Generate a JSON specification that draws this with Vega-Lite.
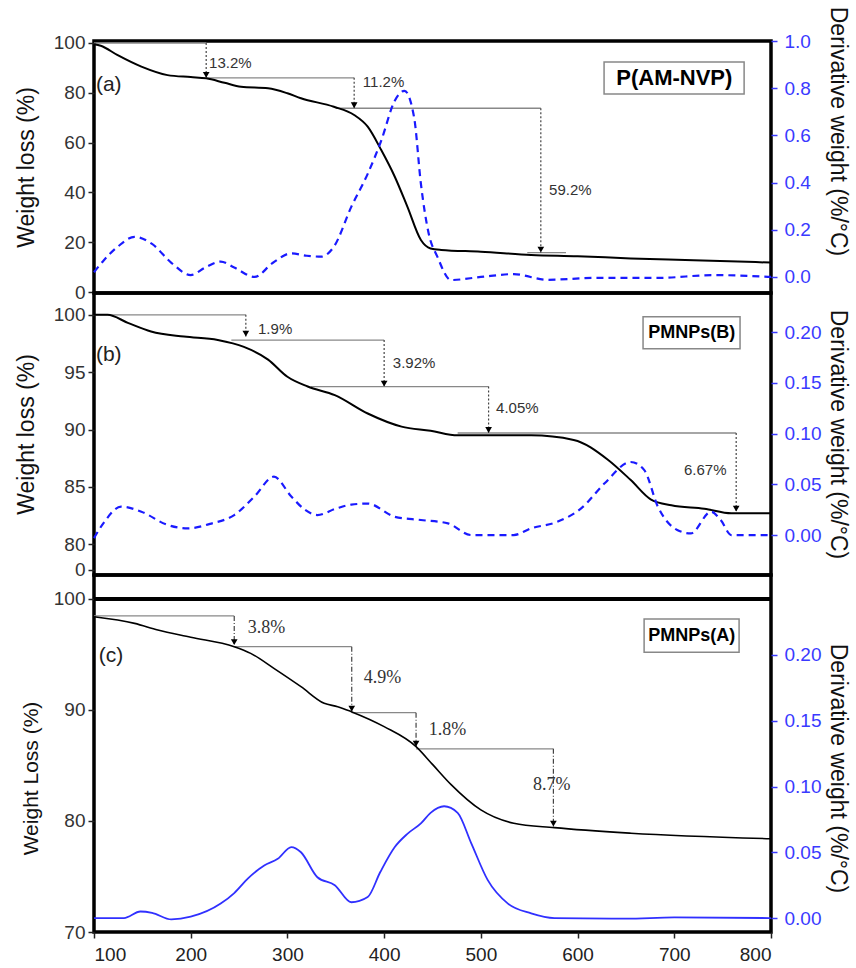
{
  "$schema": "https://vega.github.io/schema/vega-lite/v6.json",
  "background": "white",
  "padding": {"left": 13, "top": 4, "right": 0, "bottom": 0},
  "spacing": 0,
  "bounds": "flush",
  "config": {
    "view": {"stroke": "black", "strokeWidth": 3.5},
    "font": "Liberation Sans",
    "axis": {"grid": false, "domain": false, "labelFont": "Liberation Sans", "titleFont": "Liberation Sans", "titleFontWeight": "normal", "labelFontSize": 19, "titleFontSize": 23, "tickSize": 6, "tickWidth": 1.5}
  },
  "datasets": {
    "a_w": [{"T":100,"v":99.5},{"T":107,"v":98.9},{"T":124,"v":95.2},{"T":149,"v":90.5},{"T":176,"v":87.1},{"T":200,"v":86.3},{"T":216,"v":85.8},{"T":235,"v":84.0},{"T":252,"v":82.4},{"T":280,"v":81.8},{"T":300,"v":79.8},{"T":314,"v":77.8},{"T":348,"v":74.4},{"T":369,"v":71.1},{"T":383,"v":66.4},{"T":397,"v":57.0},{"T":411,"v":46.3},{"T":424,"v":34.3},{"T":438,"v":20.9},{"T":448,"v":17.5},{"T":459,"v":16.9},{"T":500,"v":16.2},{"T":552,"v":14.9},{"T":600,"v":14.4},{"T":655,"v":13.5},{"T":720,"v":12.8},{"T":800,"v":11.8}],
    "a_d": [{"T":100,"v":0.02},{"T":110,"v":0.07},{"T":125,"v":0.13},{"T":142,"v":0.17},{"T":160,"v":0.14},{"T":180,"v":0.06},{"T":200,"v":0.008},{"T":215,"v":0.04},{"T":231,"v":0.065},{"T":245,"v":0.04},{"T":266,"v":0.0},{"T":285,"v":0.06},{"T":304,"v":0.10},{"T":320,"v":0.09},{"T":335,"v":0.086},{"T":348,"v":0.128},{"T":366,"v":0.297},{"T":383,"v":0.437},{"T":397,"v":0.578},{"T":411,"v":0.747},{"T":421,"v":0.789},{"T":431,"v":0.676},{"T":438,"v":0.395},{"T":446,"v":0.185},{"T":455,"v":0.086},{"T":469,"v":-0.013},{"T":500,"v":0.0},{"T":534,"v":0.012},{"T":569,"v":-0.012},{"T":620,"v":-0.004},{"T":683,"v":-0.004},{"T":741,"v":0.008},{"T":800,"v":0.0}],
    "a_h": [{"T":100,"T2":216,"v":100},{"T":216,"T2":369,"v":86.0},{"T":350,"T2":562,"v":73.8},{"T":548,"T2":588,"v":15.8}],
    "a_a": [{"T":216,"v":100,"v2":86.0},{"T":369,"v":86.0,"v2":73.8},{"T":562,"v":73.8,"v2":15.8}],
    "a_t": [{"T":219,"v":92,"label":"13.2%"},{"T":378,"v":84.3,"label":"11.2%"},{"T":570.5,"v":41,"label":"59.2%"}],
    "a_p": [{"T":102,"v":83.1,"label":"(a)"}],
    "a_b": [{"T":627.4,"T2":772.2,"v":92.4,"v2":79.5}],
    "a_bl": [{"T":700,"v":86,"label":"P(AM-NVP)"}],
    "b_w": [{"T":100,"v":100.0},{"T":114,"v":100.0},{"T":135,"v":99.3},{"T":159,"v":98.55},{"T":193,"v":98.1},{"T":228,"v":97.8},{"T":255,"v":97.2},{"T":280,"v":96.1},{"T":300,"v":94.6},{"T":321,"v":93.75},{"T":349,"v":93.0},{"T":383,"v":91.4},{"T":418,"v":90.26},{"T":448,"v":89.9},{"T":476,"v":89.5},{"T":552,"v":89.5},{"T":596,"v":89.1},{"T":631,"v":87.4},{"T":655,"v":85.6},{"T":676,"v":83.9},{"T":697,"v":83.4},{"T":731,"v":83.1},{"T":759,"v":82.7},{"T":800,"v":82.7}],
    "b_d": [{"T":100,"v":-0.003},{"T":110,"v":0.012},{"T":128,"v":0.028},{"T":149,"v":0.023},{"T":176,"v":0.01},{"T":197,"v":0.0066},{"T":220,"v":0.011},{"T":245,"v":0.0197},{"T":266,"v":0.038},{"T":286,"v":0.0575},{"T":304,"v":0.038},{"T":318,"v":0.025},{"T":331,"v":0.0197},{"T":350,"v":0.026},{"T":366,"v":0.030},{"T":383,"v":0.031},{"T":411,"v":0.018},{"T":438,"v":0.0148},{"T":466,"v":0.0115},{"T":490,"v":0.0},{"T":534,"v":0.0},{"T":552,"v":0.0066},{"T":579,"v":0.013},{"T":604,"v":0.0265},{"T":628,"v":0.051},{"T":655,"v":0.072},{"T":669,"v":0.064},{"T":683,"v":0.028},{"T":703,"v":0.005},{"T":717,"v":0.0016},{"T":738,"v":0.023},{"T":748,"v":0.0148},{"T":759,"v":0.0},{"T":800,"v":0.0}],
    "b_h": [{"T":100,"T2":257,"v":100},{"T":242,"T2":400,"v":97.8},{"T":324,"T2":508,"v":93.75},{"T":476,"T2":764,"v":89.7}],
    "b_a": [{"T":257,"v":100,"v2":98.1},{"T":400,"v":97.8,"v2":93.75},{"T":508,"v":93.75,"v2":89.7},{"T":764,"v":89.7,"v2":82.85}],
    "b_t": [{"T":269.6,"v":98.8,"label":"1.9%"},{"T":409,"v":95.8,"label":"3.92%"},{"T":515.7,"v":91.9,"label":"4.05%"},{"T":710,"v":86.5,"label":"6.67%"}],
    "b_p": [{"T":102,"v":96.5,"label":"(b)"}],
    "b_b": [{"T":667.7,"T2":768,"v":99.83,"v2":97.04}],
    "b_bl": [{"T":718,"v":98.4,"label":"PMNPs(B)"}],
    "c_w": [{"T":100,"v":98.4},{"T":142,"v":97.8},{"T":166,"v":97.2},{"T":200,"v":96.55},{"T":245,"v":95.7},{"T":262,"v":95.1},{"T":286,"v":93.75},{"T":314,"v":92.1},{"T":338,"v":90.6},{"T":352,"v":90.3},{"T":366,"v":89.85},{"T":400,"v":88.5},{"T":433,"v":86.7},{"T":450,"v":85.1},{"T":469,"v":83.3},{"T":500,"v":81.0},{"T":534,"v":79.8},{"T":576,"v":79.4},{"T":655,"v":78.9},{"T":800,"v":78.4}],
    "c_d": [{"T":100,"v":0.0},{"T":131,"v":0.0},{"T":148,"v":0.005},{"T":160,"v":0.004},{"T":180,"v":-0.001},{"T":200,"v":0.001},{"T":231,"v":0.011},{"T":245,"v":0.019},{"T":259,"v":0.030},{"T":276,"v":0.040},{"T":290,"v":0.045},{"T":304,"v":0.054},{"T":314,"v":0.050},{"T":331,"v":0.031},{"T":349,"v":0.025},{"T":366,"v":0.012},{"T":383,"v":0.016},{"T":396,"v":0.035},{"T":411,"v":0.054},{"T":424,"v":0.064},{"T":438,"v":0.072},{"T":448,"v":0.080},{"T":462,"v":0.085},{"T":476,"v":0.080},{"T":490,"v":0.057},{"T":507,"v":0.029},{"T":528,"v":0.011},{"T":552,"v":0.0036},{"T":576,"v":0.0},{"T":650,"v":-0.0005},{"T":700,"v":0.0005},{"T":800,"v":0.0}],
    "c_h": [{"T":100,"T2":245,"v":98.47},{"T":245,"T2":366.5,"v":95.7},{"T":366.5,"T2":433,"v":89.76},{"T":433,"T2":575,"v":86.5}],
    "c_a": [{"T":245,"v":98.47,"v2":95.85},{"T":366.5,"v":95.7,"v2":89.85},{"T":433,"v":89.76,"v2":86.7},{"T":575,"v":86.5,"v2":79.5}],
    "c_t": [{"T":259,"v":97.4,"label":"3.8%"},{"T":379,"v":92.9,"label":"4.9%"},{"T":446,"v":88.2,"label":"1.8%"},{"T":554,"v":83.2,"label":"8.7%"}],
    "c_p": [{"T":105,"v":94.9,"label":"(c)"}],
    "c_b": [{"T":668.8,"T2":767,"v":98.2,"v2":95.2}],
    "c_bl": [{"T":718,"v":96.7,"label":"PMNPs(A)"}],
    "c_r": [{"T":100,"T2":800,"v":100}]
  },
  "vconcat": [
    {
      "width": 677, "height": 252,
      "encoding": {"x": {"field": "T", "type": "quantitative", "scale": {"domain": [100, 800], "nice": false, "zero": false}, "axis": null}},
      "layer": [
        {
          "encoding": {"y": {"field": "v", "type": "quantitative", "scale": {"domain": [-0.4, 100.8], "nice": false, "zero": false},
            "axis": {"values": [0, 20, 40, 60, 80, 100], "title": "Weight loss (%)", "labelColor": "#333", "tickColor": "#222", "titleColor": "#111", "labelPadding": 3, "titlePadding": 15}}},
          "layer": [
            {"data": {"name": "a_h"}, "mark": {"type": "rule", "color": "#888", "strokeWidth": 1.3}, "encoding": {"x2": {"field": "T2"}}},
            {"data": {"name": "a_a"}, "mark": {"type": "rule", "color": "#444", "strokeWidth": 1.2, "strokeDash": [2, 2]}, "encoding": {"y2": {"field": "v2"}}},
            {"data": {"name": "a_a"}, "mark": {"type": "point", "shape": "triangle-down", "filled": true, "color": "black", "opacity": 1, "size": 45, "yOffset": -3}, "encoding": {"y": {"field": "v2", "type": "quantitative"}}},
            {"data": {"name": "a_w"}, "mark": {"type": "line", "color": "black", "strokeWidth": 2, "interpolate": "monotone"}},
            {"data": {"name": "a_t"}, "mark": {"type": "text", "align": "left", "baseline": "middle", "fontSize": 15, "color": "#333"}, "encoding": {"text": {"field": "label"}}},
            {"data": {"name": "a_p"}, "mark": {"type": "text", "align": "left", "baseline": "middle", "fontSize": 21, "color": "#222"}, "encoding": {"text": {"field": "label"}}},
            {"data": {"name": "a_b"}, "mark": {"type": "rect", "fill": "white", "stroke": "#888", "strokeWidth": 1.5}, "encoding": {"x2": {"field": "T2"}, "y2": {"field": "v2"}}},
            {"data": {"name": "a_bl"}, "mark": {"type": "text", "align": "center", "baseline": "middle", "fontSize": 22, "fontWeight": "bold", "color": "black"}, "encoding": {"text": {"field": "label"}}}
          ]
        },
        {
          "data": {"name": "a_d"},
          "mark": {"type": "line", "color": "#1a1aff", "strokeWidth": 2.2, "strokeDash": [7, 5], "interpolate": "monotone"},
          "encoding": {"y": {"field": "v", "type": "quantitative", "scale": {"domain": [-0.068, 1.0], "nice": false, "zero": false},
            "axis": {"orient": "right", "values": [0, 0.2, 0.4, 0.6, 0.8, 1.0], "format": ".1f", "title": "Derivative weight (%/°C)", "titleY": 90, "labelColor": "#3a3aff", "tickColor": "#3a3aff", "titleColor": "#111", "labelPadding": 7, "titlePadding": 15}}}
        }
      ],
      "resolve": {"scale": {"y": "independent"}}
    },
    {
      "width": 677, "height": 282,
      "encoding": {"x": {"field": "T", "type": "quantitative", "scale": {"domain": [100, 800], "nice": false, "zero": false}, "axis": null}},
      "layer": [
        {
          "encoding": {"y": {"field": "v", "type": "quantitative", "scale": {"domain": [77.33, 101.9], "nice": false, "zero": false},
            "axis": {"values": [77.77, 80, 85, 90, 95, 100], "format": ".0f", "labelExpr": "datum.value < 79 ? '0' : datum.label", "title": "Weight loss (%)", "labelColor": "#333", "tickColor": "#222", "titleColor": "#111", "labelPadding": 3, "titlePadding": 15}}},
          "layer": [
            {"data": {"name": "b_h"}, "mark": {"type": "rule", "color": "#888", "strokeWidth": 1.3}, "encoding": {"x2": {"field": "T2"}}},
            {"data": {"name": "b_a"}, "mark": {"type": "rule", "color": "#444", "strokeWidth": 1.2, "strokeDash": [2, 2]}, "encoding": {"y2": {"field": "v2"}}},
            {"data": {"name": "b_a"}, "mark": {"type": "point", "shape": "triangle-down", "filled": true, "color": "black", "opacity": 1, "size": 45, "yOffset": -3}, "encoding": {"y": {"field": "v2", "type": "quantitative"}}},
            {"data": {"name": "b_w"}, "mark": {"type": "line", "color": "black", "strokeWidth": 2, "interpolate": "monotone"}},
            {"data": {"name": "b_t"}, "mark": {"type": "text", "align": "left", "baseline": "middle", "fontSize": 15, "color": "#333"}, "encoding": {"text": {"field": "label"}}},
            {"data": {"name": "b_p"}, "mark": {"type": "text", "align": "left", "baseline": "middle", "fontSize": 21, "color": "#222"}, "encoding": {"text": {"field": "label"}}},
            {"data": {"name": "b_b"}, "mark": {"type": "rect", "fill": "white", "stroke": "#888", "strokeWidth": 1.5}, "encoding": {"x2": {"field": "T2"}, "y2": {"field": "v2"}}},
            {"data": {"name": "b_bl"}, "mark": {"type": "text", "align": "center", "baseline": "middle", "fontSize": 18, "fontWeight": "bold", "color": "black"}, "encoding": {"text": {"field": "label"}}}
          ]
        },
        {
          "data": {"name": "b_d"},
          "mark": {"type": "line", "color": "#1a1aff", "strokeWidth": 2.2, "strokeDash": [7, 5], "interpolate": "monotone"},
          "encoding": {"y": {"field": "v", "type": "quantitative", "scale": {"domain": [-0.0394, 0.2386], "nice": false, "zero": false},
            "axis": {"orient": "right", "values": [0, 0.05, 0.1, 0.15, 0.2], "format": ".2f", "title": "Derivative weight (%/°C)", "labelColor": "#3a3aff", "tickColor": "#3a3aff", "titleColor": "#111", "labelPadding": 7, "titlePadding": 5}}}
        }
      ],
      "resolve": {"scale": {"y": "independent"}}
    },
    {
      "width": 677, "height": 357,
      "encoding": {"x": {"field": "T", "type": "quantitative", "scale": {"domain": [100, 800], "nice": false, "zero": false},
        "axis": {"values": [100, 200, 300, 400, 500, 600, 700, 800], "title": null, "labelColor": "#222", "tickColor": "#222", "labelPadding": 7}}},
      "layer": [
        {
          "encoding": {"y": {"field": "v", "type": "quantitative", "scale": {"domain": [70, 102.16], "nice": false, "zero": false},
            "axis": {"values": [70, 80, 90, 100], "title": "Weight Loss (%)", "titleY": 203, "titleFontSize": 21, "labelColor": "#333", "tickColor": "#222", "titleColor": "#111", "labelPadding": 3, "titlePadding": 12}}},
          "layer": [
            {"data": {"name": "c_r"}, "mark": {"type": "rule", "color": "black", "strokeWidth": 4}, "encoding": {"x2": {"field": "T2"}}},
            {"data": {"name": "c_h"}, "mark": {"type": "rule", "color": "#888", "strokeWidth": 1.3}, "encoding": {"x2": {"field": "T2"}}},
            {"data": {"name": "c_a"}, "mark": {"type": "rule", "color": "#444", "strokeWidth": 1.2, "strokeDash": [5, 2, 1, 2]}, "encoding": {"y2": {"field": "v2"}}},
            {"data": {"name": "c_a"}, "mark": {"type": "point", "shape": "triangle-down", "filled": true, "color": "black", "opacity": 1, "size": 45, "yOffset": -3}, "encoding": {"y": {"field": "v2", "type": "quantitative"}}},
            {"data": {"name": "c_w"}, "mark": {"type": "line", "color": "black", "strokeWidth": 1.6, "interpolate": "monotone"}},
            {"data": {"name": "c_t"}, "mark": {"type": "text", "align": "left", "baseline": "middle", "fontSize": 18, "font": "Liberation Serif", "color": "#333"}, "encoding": {"text": {"field": "label"}}},
            {"data": {"name": "c_p"}, "mark": {"type": "text", "align": "left", "baseline": "middle", "fontSize": 21, "color": "#222"}, "encoding": {"text": {"field": "label"}}},
            {"data": {"name": "c_b"}, "mark": {"type": "rect", "fill": "white", "stroke": "#888", "strokeWidth": 1.5}, "encoding": {"x2": {"field": "T2"}, "y2": {"field": "v2"}}},
            {"data": {"name": "c_bl"}, "mark": {"type": "text", "align": "center", "baseline": "middle", "fontSize": 18, "fontWeight": "bold", "color": "black"}, "encoding": {"text": {"field": "label"}}}
          ]
        },
        {
          "data": {"name": "c_d"},
          "mark": {"type": "line", "color": "#3030ff", "strokeWidth": 1.8, "interpolate": "monotone"},
          "encoding": {"y": {"field": "v", "type": "quantitative", "scale": {"domain": [-0.0106, 0.2608], "nice": false, "zero": false},
            "axis": {"orient": "right", "values": [0, 0.05, 0.1, 0.15, 0.2], "format": ".2f", "title": "Derivative weight (%/°C)", "titleY": 193, "labelColor": "#3a3aff", "tickColor": "#3a3aff", "titleColor": "#111", "labelPadding": 7, "titlePadding": 5}}}
        }
      ],
      "resolve": {"scale": {"y": "independent"}}
    }
  ]
}
